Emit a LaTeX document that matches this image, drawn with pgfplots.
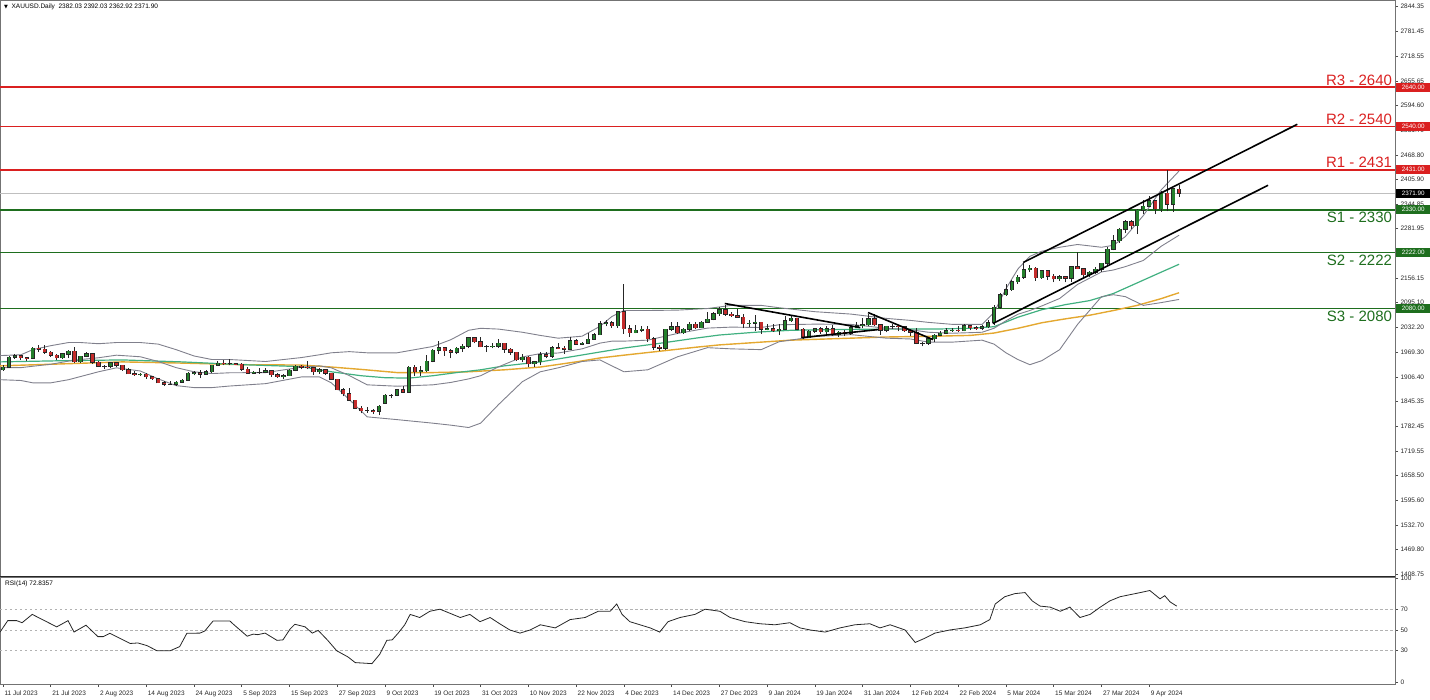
\documentclass[border=0pt]{standalone}
\usepackage{fontspec}
\setmainfont{Liberation Sans}
\newfontfamily\symfont{DejaVu Sans}
\usepackage{pgfplots}
\usepackage{pgfplotstable}
\pgfplotsset{compat=1.18}

\definecolor{bull}{RGB}{36,128,44}
\definecolor{bear}{RGB}{196,44,44}
\definecolor{resline}{RGB}{218,32,32}
\definecolor{supline}{RGB}{30,110,30}
\definecolor{band}{RGB}{128,128,140}
\definecolor{mafast}{RGB}{64,176,128}
\definecolor{maslow}{RGB}{228,168,48}

% daily bars, i = bar number from 11 Jul 2023
\pgfplotstableread{
i o h l c
0 1925 1938 1922 1932
1 1932 1959 1929 1957
2 1957 1964 1953 1961
3 1961 1963 1950 1955
4 1955 1958 1948 1954
5 1954 1983 1952 1979
6 1979 1987 1970 1977
7 1977 1987 1966 1969
8 1969 1972 1958 1962
9 1962 1966 1951 1955
10 1955 1966 1952 1965
11 1965 1975 1955 1972
12 1972 1982 1942 1945
13 1945 1960 1942 1959
14 1959 1969 1957 1965
15 1965 1966 1940 1944
16 1944 1947 1932 1934
17 1934 1937 1928 1934
18 1934 1946 1929 1943
19 1943 1944 1932 1936
20 1936 1938 1922 1925
21 1925 1930 1914 1915
22 1915 1922 1910 1913
23 1913 1917 1910 1914
24 1914 1916 1903 1907
25 1907 1910 1900 1902
26 1902 1904 1891 1892
27 1892 1896 1884 1889
28 1889 1896 1886 1889
29 1889 1897 1884 1894
30 1894 1903 1893 1899
31 1899 1920 1897 1916
32 1916 1922 1911 1917
33 1917 1925 1904 1914
34 1914 1925 1913 1920
35 1920 1938 1918 1937
36 1937 1948 1935 1942
37 1942 1949 1936 1940
38 1940 1953 1936 1940
39 1940 1943 1936 1939
40 1939 1942 1923 1926
41 1926 1931 1915 1916
42 1916 1923 1914 1919
43 1919 1929 1915 1919
44 1919 1930 1917 1922
45 1922 1924 1908 1913
46 1913 1916 1905 1908
47 1908 1915 1901 1910
48 1910 1928 1909 1924
49 1924 1937 1921 1934
50 1934 1936 1926 1931
51 1931 1947 1926 1930
52 1930 1932 1913 1920
53 1920 1930 1915 1925
54 1925 1926 1913 1916
55 1916 1917 1900 1901
56 1901 1903 1873 1875
57 1875 1879 1858 1864
58 1864 1880 1846 1848
59 1848 1849 1827 1828
60 1828 1834 1815 1822
61 1822 1830 1816 1822
62 1822 1826 1813 1820
63 1820 1835 1810 1833
64 1840 1864 1839 1861
65 1861 1865 1853 1861
66 1861 1876 1858 1874
67 1874 1885 1866 1868
68 1868 1934 1868 1932
69 1932 1936 1910 1920
70 1920 1935 1909 1923
71 1923 1962 1919 1947
72 1947 1977 1944 1974
73 1974 1997 1965 1981
74 1981 1983 1961 1973
75 1973 1977 1954 1970
76 1970 1983 1964 1979
77 1979 1990 1971 1985
78 1985 2009 1979 2006
79 2006 2009 1992 1996
80 1996 2008 1982 1983
81 1983 1987 1970 1983
82 1983 1993 1979 1985
83 1985 2003 1981 1992
84 1992 1993 1968 1977
85 1977 1980 1962 1969
86 1969 1970 1947 1950
87 1950 1965 1944 1957
88 1957 1960 1931 1940
89 1940 1948 1932 1946
90 1946 1971 1936 1963
91 1963 1970 1954 1959
92 1959 1984 1956 1981
93 1981 1994 1978 1980
94 1980 1985 1965 1977
95 1977 2007 1975 1998
96 1998 2002 1990 1990
97 1990 1995 1987 1992
98 1992 2018 1990 2002
99 2002 2017 2001 2014
100 2014 2048 2013 2041
101 2041 2052 2035 2044
102 2044 2048 2032 2036
103 2036 2075 2032 2072
104 2072 2142 2016 2029
105 2029 2038 2009 2019
106 2019 2039 2017 2025
107 2025 2035 2020 2028
108 2028 2036 1996 2004
109 2004 2007 1975 1982
110 1982 1987 1973 1980
111 1980 2028 1976 2027
112 2027 2047 2024 2034
113 2034 2047 2015 2019
114 2019 2030 2016 2027
115 2027 2047 2022 2040
116 2040 2047 2028 2031
117 2031 2048 2030 2045
118 2045 2071 2044 2053
119 2053 2070 2050 2067
120 2067 2083 2062 2077
121 2077 2088 2062 2065
122 2065 2070 2058 2062
123 2062 2078 2058 2058
124 2058 2065 2030 2041
125 2041 2050 2033 2043
126 2043 2064 2024 2045
127 2045 2046 2016 2027
128 2027 2040 2025 2029
129 2029 2040 2021 2024
130 2024 2040 2013 2028
131 2028 2062 2028 2049
132 2049 2060 2047 2055
133 2055 2056 2025 2028
134 2028 2031 2002 2006
135 2006 2025 2006 2023
136 2023 2032 2018 2029
137 2029 2033 2016 2021
138 2021 2036 2011 2029
139 2029 2038 2011 2014
140 2014 2024 2009 2020
141 2020 2025 2010 2018
142 2018 2035 2014 2032
143 2032 2047 2030 2037
144 2037 2055 2030 2039
145 2039 2065 2037 2054
146 2054 2066 2035 2039
147 2039 2040 2014 2025
148 2025 2037 2020 2035
149 2035 2040 2028 2035
150 2035 2038 2022 2034
151 2034 2037 2021 2024
152 2024 2028 2011 2020
153 2020 2031 1990 1992
154 1992 1996 1984 1992
155 1992 2006 1988 2004
156 2004 2015 1995 2013
157 2013 2022 2011 2018
158 2018 2031 2016 2024
159 2024 2030 2020 2025
160 2025 2035 2020 2024
161 2024 2041 2022 2036
162 2036 2038 2025 2031
163 2031 2037 2026 2030
164 2030 2038 2025 2034
165 2034 2052 2030 2044
166 2044 2088 2038 2083
167 2083 2120 2080 2115
168 2115 2141 2112 2128
169 2128 2153 2125 2148
170 2148 2165 2143 2159
171 2159 2195 2155 2178
172 2178 2189 2173 2182
173 2182 2184 2150 2158
174 2158 2178 2155 2175
175 2175 2176 2153 2162
176 2162 2167 2146 2155
177 2155 2164 2150 2160
178 2160 2162 2146 2157
179 2157 2187 2147 2186
180 2186 2223 2180 2181
181 2181 2182 2156 2165
182 2165 2176 2160 2172
183 2172 2185 2168 2179
184 2179 2195 2172 2194
185 2194 2236 2190 2230
186 2230 2266 2227 2251
187 2251 2283 2246 2280
188 2280 2304 2270 2300
189 2300 2305 2282 2290
190 2290 2331 2268 2329
191 2329 2354 2320 2339
192 2339 2365 2337 2352
193 2353 2354 2319 2333
194 2333 2378 2325 2372
195 2372 2431 2326 2344
196 2344 2386 2324 2383
197 2382.03 2392.03 2362.92 2371.90
}\ohlc

% Bollinger bands (20)
\pgfplotstableread{
i up mid lo
-0.5 1961 1930.5 1900
3 1963 1930.5 1898
5 1976 1934 1892
8 1986 1939 1892
11 1994 1947 1900
13 1994 1951 1908
16 1991 1955.5 1920
19 1994 1962 1930
23 1994 1958 1922
26 1990 1946 1902
29 1976 1930.5 1885
32 1960 1920 1880
35 1951 1915.5 1880
38 1951 1917.5 1884
44 1946 1918 1890
50 1956 1931.5 1907
53 1963 1935 1907
55 1968 1930 1892
58 1971 1910.5 1850
61 1968 1887 1806
66 1968 1883.5 1799
72 1984 1887 1790
75 2001 1893 1785
78 2025 1902 1779
80 2030 1910 1790
83 2028 1932.5 1837
87 2020 1957.5 1895
90 2012 1966 1920
93 2005 1967.5 1930
97 2010 1978 1946
100 2035 1992.5 1950
102 2060 1997.5 1935
104 2075 1997.5 1920
108 2075 2000 1925
113 2076 2017 1958
118 2080 2030.5 1981
122 2088 2033 1978
127 2088 2032 1976
130 2082 2039 1996
136 2072 2040.5 2009
142 2066 2040 2014
148 2055 2030 2005
152 2050 2026.5 2003
155 2045 2020 1995
159 2040 2017.5 1995
164 2040 2020 2000
166 2070 2030 1990
168 2130 2049 1968
170 2180 2065.5 1951
172 2212 2075 1938
174 2225 2086.5 1948
177 2235 2105.5 1976
180 2242 2141 2040
184 2235 2172.5 2110
186 2240 2177.5 2115
188 2262 2186 2110
191 2315 2201.5 2088
194 2380 2237.5 2095
197 2428 2265.5 2103
}\bands

\begin{document}
\begin{tikzpicture}
\path[use as bounding box] (0pt,0pt) rectangle (1430pt,699pt);

\begin{axis}[
    at={(0pt,123pt)}, anchor=south west,
    width=1395pt, height=576pt, scale only axis,
    xmin=-0.5, xmax=233.17, ymin=1403.4, ymax=2860.5,
    axis line style={draw=black!55, line width=0.8pt},
    xtick=\empty,
    ytick={1408.75,1469.80,1532.70,1595.60,1658.50,1719.55,1782.45,1845.35,1906.40,1969.30,2032.20,2095.10,2156.15,2219.05,2281.95,2344.85,2405.90,2468.80,2531.70,2594.60,2655.65,2718.55,2781.45,2844.35},
    yticklabels={1408.75,1469.80,1532.70,1595.60,1658.50,1719.55,1782.45,1845.35,1906.40,1969.30,2032.20,2095.10,2156.15,2219.05,2281.95,2344.85,2405.90,2468.80,2531.70,2594.60,2655.65,2718.55,2781.45,2844.35},
    yticklabel pos=right, ytick pos=right,
    tick align=outside, major tick length=3pt,
    tick style={black!70, line width=0.6pt},
    yticklabel style={font=\fontsize{6.5}{7}\selectfont, text=black!85, xshift=-1pt},
    /pgf/number format/assume math mode=true,
    clip mode=individual,
]
% support / resistance levels
\addplot[resline, line width=1.6pt] coordinates {(-0.5,2640) (233.17,2640)};
\addplot[resline, line width=1.6pt] coordinates {(-0.5,2540) (233.17,2540)};
\addplot[resline, line width=1.6pt] coordinates {(-0.5,2431) (233.17,2431)};
\addplot[black!25, line width=0.7pt] coordinates {(-0.5,2371.9) (233.17,2371.9)};
\addplot[supline, line width=1.6pt] coordinates {(-0.5,2330) (233.17,2330)};
\addplot[supline, line width=1.6pt] coordinates {(-0.5,2222) (233.17,2222)};
\addplot[supline, line width=1.6pt] coordinates {(-0.5,2080) (233.17,2080)};

% moving averages
\addplot[maslow, line width=1.4pt] coordinates {
(-0.5,1935) (10,1940) (20,1945) (30,1942) (40,1938) (50,1937) (55,1932) (60,1926) (66,1918) (72,1918) (78,1920) (84,1925) (90,1932) (96,1945) (100,1955) (104,1962) (110,1972) (116,1982) (120,1988) (126,1994) (132,2000) (140,2004) (148,2008) (156,2010) (162,2012) (166,2018) (170,2030) (174,2044) (178,2054) (182,2063) (186,2075) (190,2088) (194,2105) (197,2120)};
\addplot[mafast, line width=1.2pt] coordinates {
(-0.5,1945) (10,1948) (20,1950) (30,1945) (40,1938) (50,1933) (55,1920) (60,1910) (64,1905) (68,1904) (72,1910) (76,1918) (80,1925) (84,1935) (90,1945) (96,1960) (100,1970) (104,1980) (110,1992) (116,2005) (120,2013) (126,2020) (132,2025) (140,2027) (148,2028) (156,2028) (162,2030) (166,2034) (170,2058) (174,2077) (178,2090) (182,2100) (186,2118) (190,2145) (194,2172) (197,2192)};

% Bollinger bands
\addplot[band, line width=0.9pt] table[x=i, y=up] {\bands};
\addplot[band, line width=0.9pt] table[x=i, y=mid] {\bands};
\addplot[band, line width=0.9pt] table[x=i, y=lo] {\bands};

% candles: wicks, outline, bodies
\addplot[draw=none, mark=none, forget plot,
  error bars/.cd, y dir=plus, y explicit, error mark=none,
  error bar style={draw=black!85, line width=0.9pt}]
  table[x=i, y=l, y error plus expr={\thisrow{h}-\thisrow{l}}] {\ohlc};
\addplot[draw=none, mark=none, forget plot,
  error bars/.cd, y dir=plus, y explicit, error mark=none,
  error bar style={draw=black!85, line width=4.4pt}]
  table[x=i, y expr={min(\thisrow{o},\thisrow{c})-1.3}, y error plus expr={abs(\thisrow{c}-\thisrow{o})+2.6}] {\ohlc};
\addplot[draw=none, mark=none, forget plot,
  error bars/.cd, y dir=plus, y explicit, error mark=none,
  error bar style={draw=bull, line width=2.8pt}]
  table[x=i, y expr={\thisrow{c}>=\thisrow{o} ? \thisrow{o} : nan}, y error plus expr={\thisrow{c}-\thisrow{o}}] {\ohlc};
\addplot[draw=none, mark=none, forget plot,
  error bars/.cd, y dir=plus, y explicit, error mark=none,
  error bar style={draw=bear, line width=2.8pt}]
  table[x=i, y expr={\thisrow{c}<\thisrow{o} ? \thisrow{c} : nan}, y error plus expr={\thisrow{o}-\thisrow{c}}] {\ohlc};

% trend lines
\addplot[black, line width=1.6pt] coordinates {(170.9,2196.6) (216.8,2546)};
\addplot[black, line width=1.6pt] coordinates {(165.8,2042) (211.9,2391.7)};
\addplot[black, line width=1.6pt] coordinates {(120.9,2092.7) (143.6,2031.8)};
\addplot[black, line width=1.6pt] coordinates {(133.8,2006.5) (146.6,2026.8)};
\addplot[black, line width=1.6pt] coordinates {(144.9,2069.9) (155.8,2001.4)};

% level names
\begin{scope}[font=\fontsize{15}{15}\selectfont, inner sep=0pt]
\node[anchor=south east, text=resline, yshift=1.5pt] at (axis cs:232.7,2640) {R3 - 2640};
\node[anchor=south east, text=resline, yshift=1.5pt] at (axis cs:232.7,2540) {R2 - 2540};
\node[anchor=south east, text=resline, yshift=1.5pt] at (axis cs:232.7,2431) {R1 - 2431};
\node[anchor=north east, text=supline, yshift=-2pt] at (axis cs:232.7,2330) {S1 - 2330};
\node[anchor=north east, text=supline, yshift=-2pt] at (axis cs:232.7,2222) {S2 - 2222};
\node[anchor=north east, text=supline, yshift=-2pt] at (axis cs:232.7,2080) {S3 - 2080};
\end{scope}

% price tags on the scale
\begin{scope}[font=\fontsize{6.3}{7}\selectfont, text=white, anchor=west, inner xsep=2pt, inner ysep=1pt, minimum width=34pt, minimum height=9pt, xshift=1pt]
\node[fill=resline] at (axis cs:233.17,2640) {2640.00};
\node[fill=resline] at (axis cs:233.17,2540) {2540.00};
\node[fill=resline] at (axis cs:233.17,2431) {2431.00};
\node[fill=black] at (axis cs:233.17,2371.9) {2371.90};
\node[fill=supline] at (axis cs:233.17,2330) {2330.00};
\node[fill=supline] at (axis cs:233.17,2222) {2222.00};
\node[fill=supline] at (axis cs:233.17,2080) {2080.00};
\end{scope}
\end{axis}

\begin{axis}[
    at={(0pt,15pt)}, anchor=south west,
    width=1395pt, height=107pt, scale only axis,
    xmin=-0.5, xmax=233.17, ymin=-2, ymax=101,
    axis line style={draw=black!55, line width=0.8pt},
    ytick={0,30,50,70,100},
    yticklabel pos=right, ytick pos=right,
    xtick={0,8,...,192}, xtick pos=bottom,
    xticklabels={11 Jul 2023,21 Jul 2023,2 Aug 2023,14 Aug 2023,24 Aug 2023,5 Sep 2023,15 Sep 2023,27 Sep 2023,9 Oct 2023,19 Oct 2023,31 Oct 2023,10 Nov 2023,22 Nov 2023,4 Dec 2023,14 Dec 2023,27 Dec 2023,9 Jan 2024,19 Jan 2024,31 Jan 2024,12 Feb 2024,22 Feb 2024,5 Mar 2024,15 Mar 2024,27 Mar 2024,9 Apr 2024},
    tick align=outside, major tick length=3pt,
    tick style={black!70, line width=0.6pt},
    yticklabel style={font=\fontsize{6.5}{7}\selectfont, text=black!85, xshift=-1pt},
    xticklabel style={font=\fontsize{6.5}{7}\selectfont, text=black!85, anchor=north west, xshift=-2pt},
    /pgf/number format/assume math mode=true,
    clip mode=individual,
]
\addplot[black!30, line width=0.6pt, dash pattern=on 2.5pt off 2.5pt] coordinates {(-0.5,70) (233.17,70)};
\addplot[black!30, line width=0.6pt, dash pattern=on 2.5pt off 2.5pt] coordinates {(-0.5,50) (233.17,50)};
\addplot[black!30, line width=0.6pt, dash pattern=on 2.5pt off 2.5pt] coordinates {(-0.5,30) (233.17,30)};
\addplot[black!85, line width=0.8pt] coordinates {
(-0.5,48) (0.8,59) (2.3,59) (3.2,57) (4.9,65) (9,53) (10.9,59) (11.9,48) (13.9,54.6) (15.9,43.6) (16.8,43.6) (17.9,46.8) (21.3,37) (22.6,37.5) (24.1,35) (25.8,30) (28,30) (29.6,34) (30.8,46.8) (33,47) (33.8,49) (35.2,58.7) (38,58.7) (38.5,56) (40.9,44) (41.9,46) (42.7,45.5) (43.9,47) (45.9,40) (46.9,40.5) (48.1,51) (48.9,55.5) (50.6,53) (51.8,47) (52.8,49.6) (54.4,40) (55.9,30) (57.8,24) (59,18.6) (61.8,17.6) (63.1,26.6) (64.3,40) (65.2,40.5) (66.2,47)
(67.3,55) (68.2,65) (69.8,62) (71.5,68) (73.2,70) (74.9,66) (76.6,62) (78.2,65) (79.9,58) (81.6,62) (83.2,56) (84.9,50) (86.6,47) (88.3,50) (90,55) (92.5,52) (95,60) (97.5,62) (99.7,68) (101.7,68) (102.8,75) (103.7,65) (105,58) (106.7,55) (108.4,52) (110,48) (111.4,58) (113.4,62) (115.9,65) (117.6,70) (120.1,68) (121.8,62) (124.3,58) (126.8,56) (129.3,55) (131.8,57) (133.5,52) (135.2,50) (137.7,48) (140.2,52) (142.7,55) (145.2,56) (146.9,52) (148.6,55) (151.1,50) (152.8,38) (154.4,42) (156.1,47) (158.6,50) (161.1,52) (163.7,55) (165.3,60) (166.2,75) (167.8,82) (169.5,85) (171.2,86) (172.4,78) (173.7,73) (175.4,72) (177.1,68) (178.7,72) (180.4,62) (182.1,65) (183.8,72) (185.4,78) (187.1,82) (188.8,84) (190.5,86) (192.1,88) (193.8,80) (194.6,83) (195.5,77) (196.6,73)};
\end{axis}

\draw[black!85, line width=1.5pt] (0pt,122.6pt) -- (1395pt,122.6pt);
\node[anchor=west, font=\fontsize{6.5}{7}\selectfont, inner sep=0pt] at (4pt,692pt) {{\symfont\fontsize{5}{5}\selectfont ▼}\ \ XAUUSD.Daily\ \ 2382.03 2392.03 2362.92 2371.90};
\node[anchor=west, font=\fontsize{6.5}{7}\selectfont, inner sep=0pt] at (5pt,115pt) {RSI(14) 72.8357};
\end{tikzpicture}
\end{document}
